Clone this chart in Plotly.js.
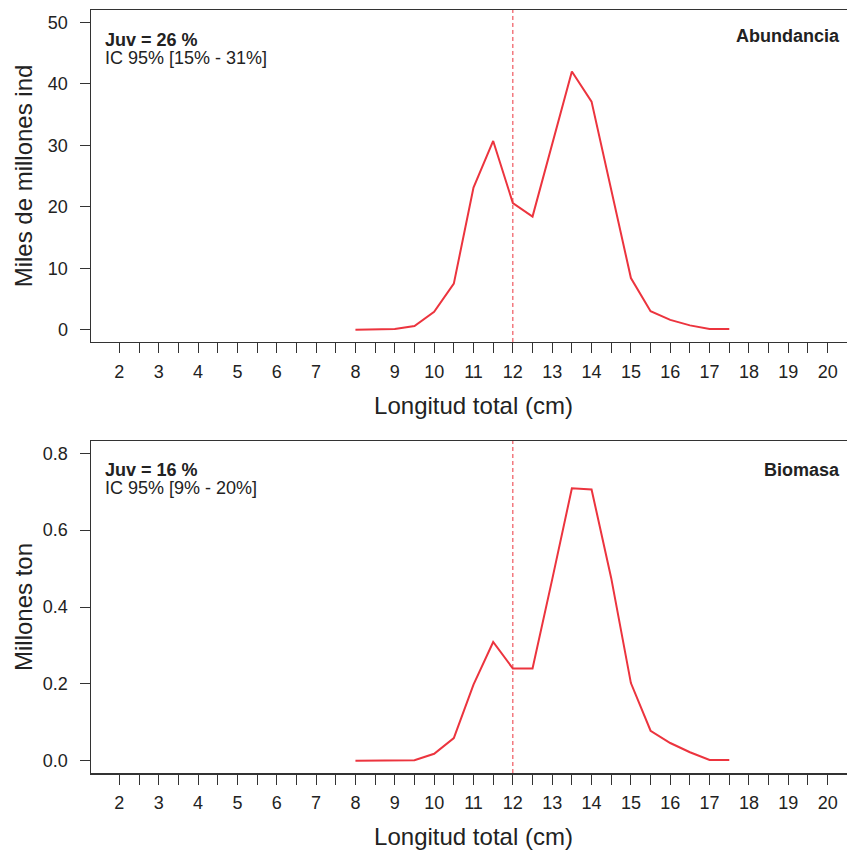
<!DOCTYPE html>
<html>
<head>
<meta charset="utf-8">
<script src="https://cdn.plot.ly/plotly-3.0.1.min.js"></script>
<style>
html, body { margin: 0; padding: 0; overflow: hidden; background: #fff; width: 847px; height: 851px; }
#chart { width: 870px; height: 851px; }
</style>
</head>
<body>
<div id="chart"></div>
<script>
// Data
const lengths = [8, 8.5, 9, 9.5, 10, 10.5, 11, 11.5, 12, 12.5, 13, 13.5, 14, 14.5, 15, 15.5, 16, 16.5, 17, 17.5];
const abundance = [0.0, 0.0, 0.1, 0.6, 2.9, 7.5, 23.1, 30.7, 20.6, 18.4, 30.3, 42.0, 37.1, 22.9, 8.4, 3.0, 1.6, 0.7, 0.1, 0.1];
const biomass = [0.0, 0.0, 0.0, 0.001, 0.018, 0.059, 0.198, 0.309, 0.240, 0.240, 0.472, 0.709, 0.706, 0.475, 0.202, 0.078, 0.046, 0.022, 0.002, 0.002];
const juvCut = 12;

const xTickVals = [2, 2.5, 3, 3.5, 4, 4.5, 5, 5.5, 6, 6.5, 7, 7.5, 8, 8.5, 9, 9.5, 10, 10.5, 11, 11.5, 12, 12.5, 13, 13.5, 14, 14.5, 15, 15.5, 16, 16.5, 17, 17.5, 18, 18.5, 19, 19.5, 20];
const xTickText = ["2", "", "3", "", "4", "", "5", "", "6", "", "7", "", "8", "", "9", "", "10", "", "11", "", "12", "", "13", "", "14", "", "15", "", "16", "", "17", "", "18", "", "19", "", "20"];
const yTopTicks = [0, 10, 20, 30, 40, 50];
const yBotTicks = [0, 0.2, 0.4, 0.6, 0.8];

const topLabel = "Abundancia";
const botLabel = "Biomasa";
const topJuv = "Juv = 26 %";
const topIC = "IC 95% [15% - 31%]";
const botJuv = "Juv = 16 %";
const botIC = "IC 95% [9% - 20%]";

const FONT = "Liberation Sans, Arial, Helvetica, sans-serif";
const TXT = "#222";
const AX = "#333";
const RED = "rgb(236,52,62)";

const traces = [
  { x: lengths, y: abundance, xaxis: "x", yaxis: "y", type: "scatter", mode: "lines",
    line: { color: RED, width: 2 }, hoverinfo: "x+y", showlegend: false },
  { x: lengths, y: biomass, xaxis: "x2", yaxis: "y2", type: "scatter", mode: "lines",
    line: { color: RED, width: 2 }, hoverinfo: "x+y", showlegend: false }
];

function xAxis(anchor) {
  return {
    anchor: anchor, domain: [0, 1], range: [1.28, 20.72],
    tickmode: "array", tickvals: xTickVals, ticktext: xTickText,
    ticks: "outside", ticklen: 10, tickwidth: 1, tickcolor: AX,
    showline: true, linecolor: AX, linewidth: 1.5, mirror: true,
    showgrid: false, zeroline: false,
    tickfont: { family: FONT, size: 18, color: TXT },
    ticklabelstandoff: 3,
    title: { text: "Longitud total (cm)", font: { family: FONT, size: 24, color: TXT }, standoff: 16 }
  };
}
function yAxis(anchor, domain, range, ticks, fmt, title, standoff) {
  return {
    anchor: anchor, domain: domain, range: range,
    tickmode: "array", tickvals: ticks, tickformat: fmt,
    ticks: "outside", ticklen: 10, tickwidth: 1, tickcolor: AX,
    showline: true, linecolor: AX, linewidth: 1.5, mirror: true,
    showgrid: false, zeroline: false,
    tickfont: { family: FONT, size: 18, color: TXT },
    ticklabelstandoff: 8,
    title: { text: title, font: { family: FONT, size: 24, color: TXT }, standoff: standoff }
  };
}

function ann(xref, yref, x, xanchor, yshift, text, bold) {
  return {
    xref: xref, yref: yref, x: x, y: 1, xanchor: xanchor, yanchor: "middle",
    xshift: xanchor === "left" ? 12 : 0, yshift: yshift, showarrow: false,
    text: bold ? "<b>" + text + "</b>" : text,
    font: { family: FONT, size: 18, color: TXT }
  };
}

const layout = {
  width: 870, height: 851,
  margin: { l: 91, r: 14, t: 10, b: 78 },
  paper_bgcolor: "#fff", plot_bgcolor: "#fff",
  xaxis: xAxis("y"),
  yaxis: yAxis("x", [0.5649, 1], [-2, 52], yTopTicks, "d", "Miles de millones ind", 8),
  xaxis2: xAxis("y2"),
  yaxis2: yAxis("x2", [0, 0.4351], [-0.032, 0.832], yBotTicks, ".1f", "Millones ton", 3),
  shapes: [
    { type: "line", xref: "x", yref: "y domain", x0: juvCut, x1: juvCut, y0: 0, y1: 1,
      line: { color: RED, width: 1, dash: "4px,3px" } },
    { type: "line", xref: "x2", yref: "y2 domain", x0: juvCut, x1: juvCut, y0: 0, y1: 1,
      line: { color: RED, width: 1, dash: "4px,3px" } }
  ],
  annotations: [
    ann("x domain", "y domain", 0, "left", -30, topJuv, true),
    ann("x domain", "y domain", 0, "left", -48, topIC, false),
    ann("x domain", "y domain", 0.9817, "right", -26, topLabel, true),
    ann("x2 domain", "y2 domain", 0, "left", -29, botJuv, true),
    ann("x2 domain", "y2 domain", 0, "left", -47, botIC, false),
    ann("x2 domain", "y2 domain", 0.9817, "right", -29, botLabel, true)
  ]
};

Plotly.newPlot("chart", traces, layout, { displayModeBar: false, staticPlot: true });
</script>
</body>
</html>
